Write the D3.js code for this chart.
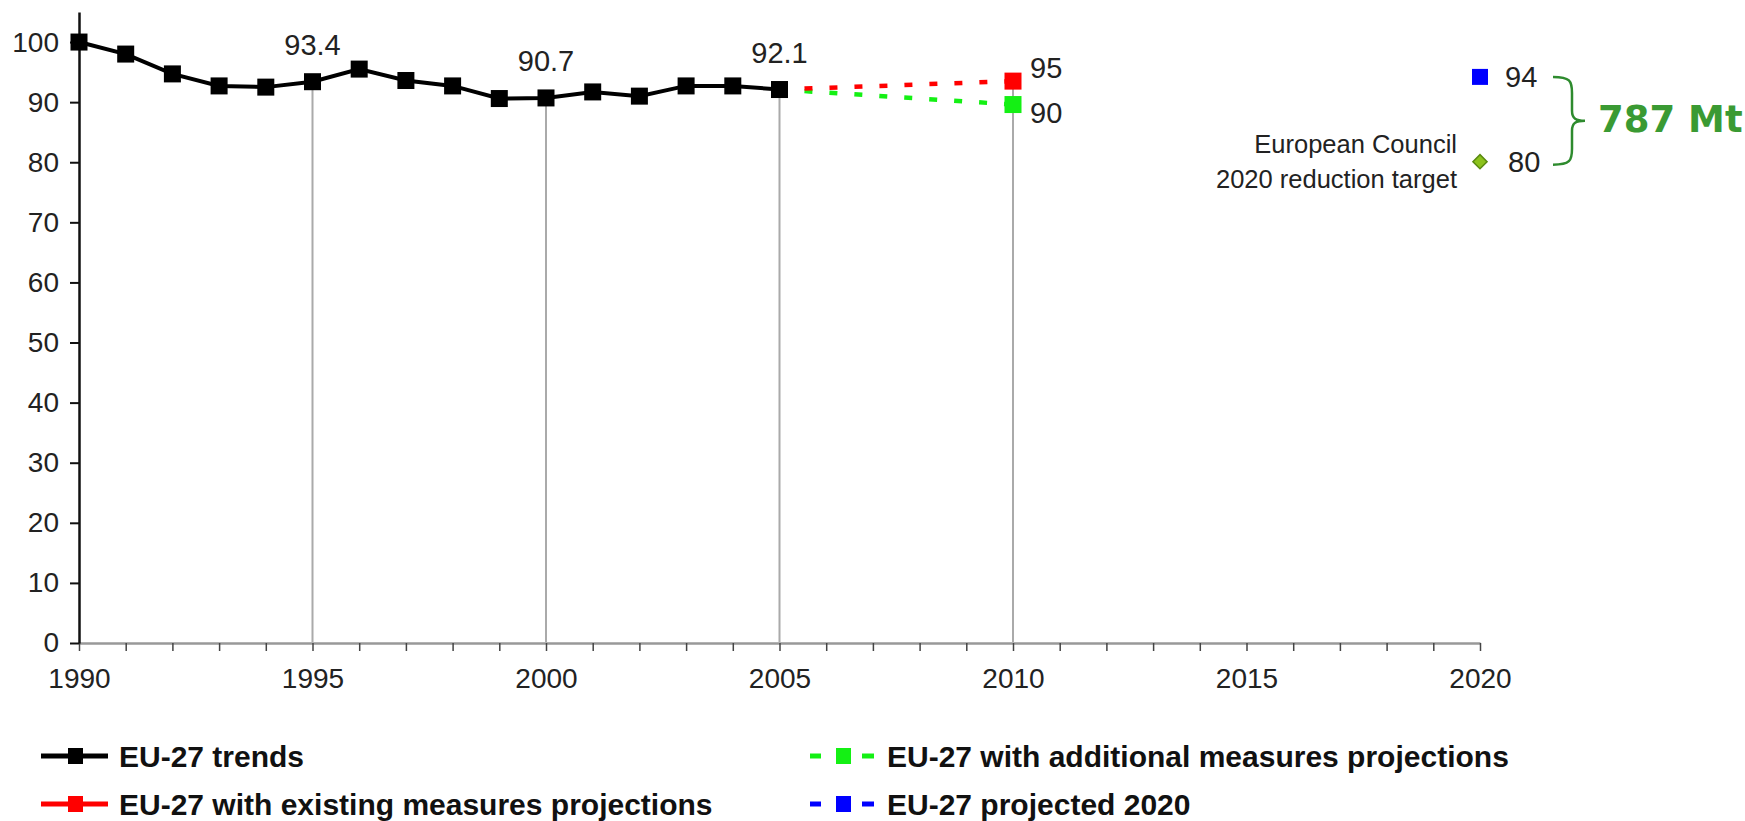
<!DOCTYPE html>
<html>
<head>
<meta charset="utf-8">
<script src="https://cdn.jsdelivr.net/npm/d3@7"></script>
<style>
    body { margin: 0; background: #fff; }
    svg { display: block; }
    text { font-family: "Liberation Sans", Arial, sans-serif; fill: #222; }
</style>
</head>
<body>
<svg id="chart"></svg>
<script>
// EU-27 trends, index 1990 = 100
var trendYears = [1990, 1991, 1992, 1993, 1994, 1995, 1996, 1997, 1998, 1999, 2000, 2001, 2002, 2003, 2004, 2005];
var trendValues = [100, 98.0, 94.7, 92.7, 92.5, 93.4, 95.5, 93.6, 92.7, 90.6, 90.7, 91.7, 91.0, 92.7, 92.7, 92.1];

var existingYears = [2005, 2010];
var existingValues = [92.1, 93.5];

var additionalYears = [2005, 2010];
var additionalValues = [92.1, 89.6];

var projectedYear = 2020;
var projectedValue = 94.2;

var targetYear = 2020;
var targetValue = 80.1;

var calloutYears = [1995, 2000, 2005];
var calloutLabels = ["93.4", "90.7", "92.1"];

var yTicks = [0, 10, 20, 30, 40, 50, 60, 70, 80, 90, 100];
var xTickLabels = [1990, 1995, 2000, 2005, 2010, 2015, 2020];

var legendItems = [
    { label: "EU-27 trends", color: "#000", dashed: false },
    { label: "EU-27 with existing measures projections", color: "#ff0000", dashed: false },
    { label: "EU-27 with additional measures projections", color: "#14f014", dashed: true },
    { label: "EU-27 projected 2020", color: "#0000ff", dashed: true }
];

var width = 1745;
var height = 821;

var svg = d3.select("#chart").attr("width", width).attr("height", height);

var x = d3.scaleLinear().domain([1990, 2020]).range([79, 1480]);
var y = d3.scaleLinear().domain([0, 105]).range([643, 12]);

// axes
var xAxis = svg.append("g")
    .attr("transform", "translate(0," + y(0) + ")")
    .call(d3.axisBottom(x)
        .tickValues(d3.range(1990, 2021))
        .tickSize(8)
        .tickSizeOuter(0)
        .tickPadding(17)
        .tickFormat(function (d) {
            return xTickLabels.indexOf(d) >= 0 ? d : "";
        }));
xAxis.select(".domain").attr("stroke", "#999").attr("stroke-width", 2.5);
xAxis.selectAll(".tick line").attr("stroke", "#444").attr("stroke-width", 1.5);
xAxis.selectAll("text").style("font-size", "28px").attr("fill", "#222");

var yAxis = svg.append("g")
    .attr("transform", "translate(" + x(1990) + ",0)")
    .call(d3.axisLeft(y)
        .tickValues(yTicks)
        .tickSize(9)
        .tickSizeOuter(0)
        .tickPadding(11));
yAxis.select(".domain").attr("stroke", "#111").attr("stroke-width", 2.5);
yAxis.selectAll(".tick line").attr("stroke", "#111").attr("stroke-width", 2);
yAxis.selectAll("text").style("font-size", "28px").attr("fill", "#222");

// grey drop lines
var dropYears = calloutYears.concat([existingYears[1]]);
var dropValues = calloutYears.map(function (yr) {
    return trendValues[trendYears.indexOf(yr)];
}).concat([existingValues[1]]);

svg.selectAll(".drop")
    .data(dropYears)
    .enter()
    .append("line")
    .attr("class", "drop")
    .attr("x1", function (d) { return x(d); })
    .attr("x2", function (d) { return x(d); })
    .attr("y1", function (d, i) { return y(dropValues[i]); })
    .attr("y2", y(0) - 1)
    .attr("stroke", "#aaa")
    .attr("stroke-width", 2);

// projections (dashed)
var line = d3.line()
    .x(function (d) { return x(d[0]); })
    .y(function (d) { return y(d[1]); });

svg.append("path")
    .datum(d3.zip(additionalYears, additionalValues))
    .attr("d", line)
    .attr("fill", "none")
    .attr("stroke", "#14f014")
    .attr("stroke-width", 4.5)
    .attr("stroke-dasharray", "8,17");

svg.append("path")
    .datum(d3.zip(existingYears, existingValues))
    .attr("d", line)
    .attr("fill", "none")
    .attr("stroke", "#ff0000")
    .attr("stroke-width", 4.5)
    .attr("stroke-dasharray", "8,17");

// trend line
svg.append("path")
    .datum(d3.zip(trendYears, trendValues))
    .attr("d", line)
    .attr("fill", "none")
    .attr("stroke", "#000")
    .attr("stroke-width", 4);

var sq = 17;
svg.selectAll(".trend")
    .data(d3.zip(trendYears, trendValues))
    .enter()
    .append("rect")
    .attr("class", "trend")
    .attr("x", function (d) { return x(d[0]) - sq / 2; })
    .attr("y", function (d) { return y(d[1]) - sq / 2; })
    .attr("width", sq)
    .attr("height", sq)
    .attr("fill", "#000");

svg.append("rect")
    .attr("x", x(existingYears[1]) - sq / 2)
    .attr("y", y(existingValues[1]) - sq / 2)
    .attr("width", sq).attr("height", sq)
    .attr("fill", "#ff0000");

svg.append("rect")
    .attr("x", x(additionalYears[1]) - sq / 2)
    .attr("y", y(additionalValues[1]) - sq / 2)
    .attr("width", sq).attr("height", sq)
    .attr("fill", "#14f014");

svg.append("rect")
    .attr("x", x(projectedYear) - 8)
    .attr("y", y(projectedValue) - 8)
    .attr("width", 16).attr("height", 16)
    .attr("fill", "#0000ff");

svg.append("rect")
    .attr("x", -5).attr("y", -5).attr("width", 10).attr("height", 10)
    .attr("transform", "translate(" + x(targetYear) + "," + y(targetValue) + ") rotate(45)")
    .attr("fill", "#8cc21c")
    .attr("stroke", "#5a8a10")
    .attr("stroke-width", 1.5);

// callout labels
svg.selectAll(".callout")
    .data(calloutYears)
    .enter()
    .append("text")
    .attr("class", "callout")
    .attr("x", function (d) { return x(d); })
    .attr("y", function (d) { return y(trendValues[trendYears.indexOf(d)]) - 27; })
    .attr("text-anchor", "middle")
    .style("font-size", "29px")
    .text(function (d, i) { return calloutLabels[i]; });

svg.append("text").attr("x", x(2010) + 17).attr("y", y(existingValues[1]) - 3)
    .style("font-size", "29px").text("95");
svg.append("text").attr("x", x(2010) + 17).attr("y", y(additionalValues[1]) + 18)
    .style("font-size", "29px").text("90");
svg.append("text").attr("x", x(2020) + 25).attr("y", y(projectedValue) + 10)
    .style("font-size", "29px").text("94");
svg.append("text").attr("x", x(2020) + 28).attr("y", y(targetValue) + 10)
    .style("font-size", "29px").text("80");

svg.append("text").attr("x", x(2020) - 23).attr("y", y(targetValue) - 9)
    .attr("text-anchor", "end").style("font-size", "25.5px").text("European Council");
svg.append("text").attr("x", x(2020) - 23).attr("y", y(targetValue) + 26)
    .attr("text-anchor", "end").style("font-size", "25.5px").text("2020 reduction target");

// brace + 787 Mt
var bTop = y(projectedValue), bBot = y(targetValue) + 3, bMid = (bTop + bBot) / 2;
svg.append("path")
    .attr("d", "M1553," + bTop +
        " C1570," + bTop + " 1572," + (bTop + 4) + " 1572," + (bTop + 16) +
        " L1572," + (bMid - 10) +
        " C1572," + (bMid - 2) + " 1576," + bMid + " 1585," + bMid +
        " C1576," + bMid + " 1572," + (bMid + 2) + " 1572," + (bMid + 10) +
        " L1572," + (bBot - 16) +
        " C1572," + (bBot - 4) + " 1570," + bBot + " 1553," + bBot)
    .attr("fill", "none")
    .attr("stroke", "#2e8b2e")
    .attr("stroke-width", 2.5);

svg.append("text")
    .attr("x", 1598).attr("y", 132)
    .style("font-family", "'DejaVu Sans', Verdana, sans-serif")
    .style("font-weight", "bold")
    .style("font-size", "37px")
    .style("fill", "#3a9a33")
    .text("787 Mt");

// legend
var legendPos = [[41, 756], [41, 804], [810, 756], [810, 804]];
var legend = svg.selectAll(".legend")
    .data(legendItems)
    .enter()
    .append("g")
    .attr("class", "legend")
    .attr("transform", function (d, i) {
        return "translate(" + legendPos[i][0] + "," + legendPos[i][1] + ")";
    });

legend.each(function (d) {
    var g = d3.select(this);
    if (d.dashed) {
        g.append("line").attr("x1", 0).attr("x2", 11).attr("y1", 0).attr("y2", 0)
            .attr("stroke", d.color).attr("stroke-width", 5);
        g.append("line").attr("x1", 52).attr("x2", 64).attr("y1", 0).attr("y2", 0)
            .attr("stroke", d.color).attr("stroke-width", 5);
        g.append("rect").attr("x", 26).attr("y", -8).attr("width", 15).attr("height", 16)
            .attr("fill", d.color);
    } else {
        g.append("line").attr("x1", 0).attr("x2", 67).attr("y1", 0).attr("y2", 0)
            .attr("stroke", d.color).attr("stroke-width", 5);
        g.append("rect").attr("x", 27).attr("y", -8).attr("width", 15).attr("height", 16)
            .attr("fill", d.color);
    }
    g.append("text")
        .attr("x", d.dashed ? 77 : 78)
        .attr("y", 11)
        .style("font-size", "30px")
        .style("font-weight", "bold")
        .style("fill", "#111")
        .text(d.label);
});
</script>
</body>
</html>
